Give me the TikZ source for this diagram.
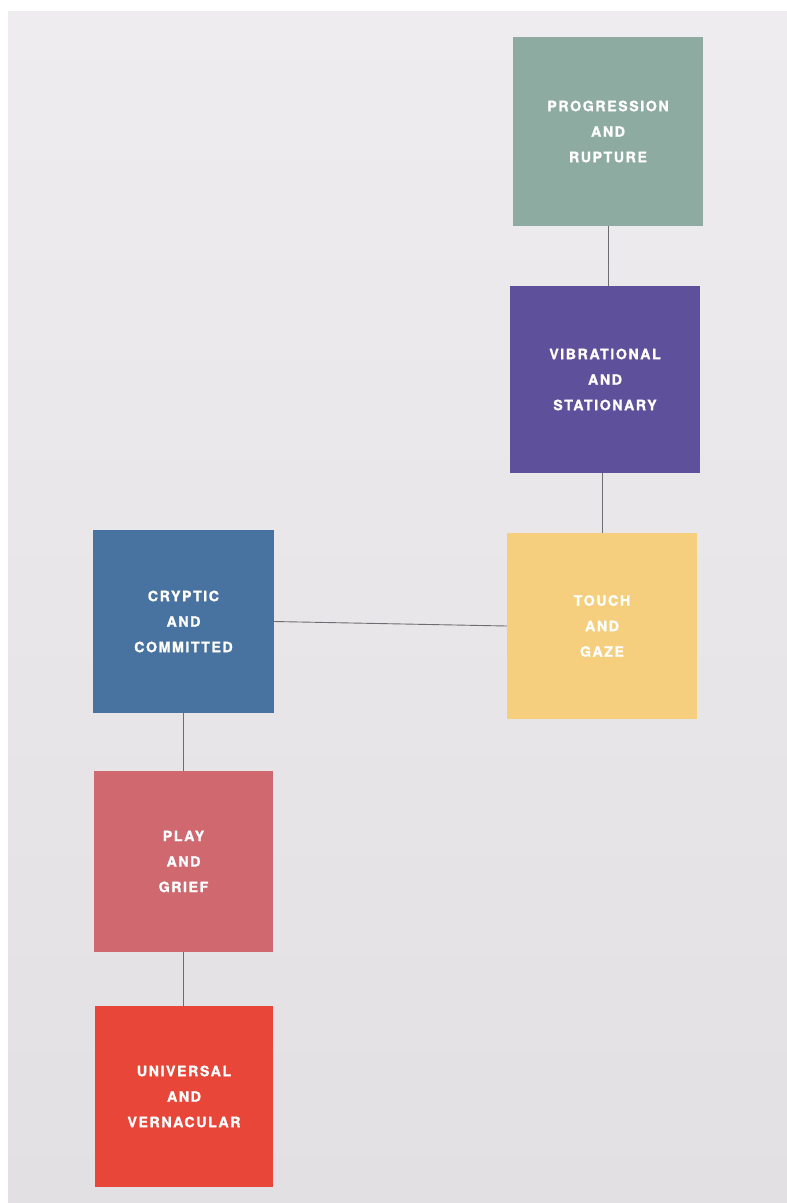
\documentclass[tikz,border=0pt]{standalone}
\usepackage{fontspec}
\newfontfamily\labfont{TeX Gyre Heros}[UprightFont={* Bold}, LetterSpace=11, FakeBold=1.3]
\definecolor{paper}{HTML}{EEECEE}
\definecolor{paperlow}{HTML}{E2E0E3}
\definecolor{sage}{HTML}{8DABA0}
\definecolor{violetbox}{HTML}{5F509B}
\definecolor{yellowbox}{HTML}{F5CF7D}
\definecolor{bluebox}{HTML}{4872A0}
\definecolor{pinkbox}{HTML}{D06870}
\definecolor{redbox}{HTML}{E84638}
\definecolor{linkgrey}{HTML}{6E6C70}
\begin{document}
\begin{tikzpicture}[x=1pt,y=-1pt,
  cardbox/.style={draw=none, inner sep=0pt, align=center, text=white,
    font=\labfont\fontsize{14.2}{25.5}\selectfont},
  link/.style={draw=linkgrey, line width=0.9pt}]
\useasboundingbox (0,0) rectangle (787,1203);
\fill[white] (0,0) rectangle (787,1203);
\shade[top color=paper, bottom color=paperlow] (8,11) rectangle (787,1203);
\node[cardbox, fill=sage, minimum width=190pt, minimum height=189pt] (pr) at (608,131.5) {PROGRESSION\\AND\\RUPTURE};
\node[cardbox, fill=violetbox, minimum width=190pt, minimum height=187pt] (vi) at (605,379.5) {VIBRATIONAL\\AND\\STATIONARY};
\node[cardbox, fill=yellowbox, minimum width=190pt, minimum height=186pt] (to) at (602,626) {TOUCH\\AND\\GAZE};
\node[cardbox, fill=bluebox, minimum width=181pt, minimum height=183pt] (cr) at (183.5,621.5) {CRYPTIC\\AND\\COMMITTED};
\node[cardbox, fill=pinkbox, minimum width=179pt, minimum height=181pt] (pl) at (183.5,861.5) {PLAY\\AND\\GRIEF};
\node[cardbox, fill=redbox, minimum width=178pt, minimum height=181pt] (un) at (184,1096.5) {UNIVERSAL\\AND\\VERNACULAR};
\draw[link] (pr.south) -- (pr.south |- vi.north);
\draw[link] (vi.south -| to.north) -- (to.north);
\draw[link] (cr.east) -- (to.west);
\draw[link] (cr.south) -- (cr.south |- pl.north);
\draw[link] (pl.south) -- (pl.south |- un.north);
\end{tikzpicture}
\end{document}
